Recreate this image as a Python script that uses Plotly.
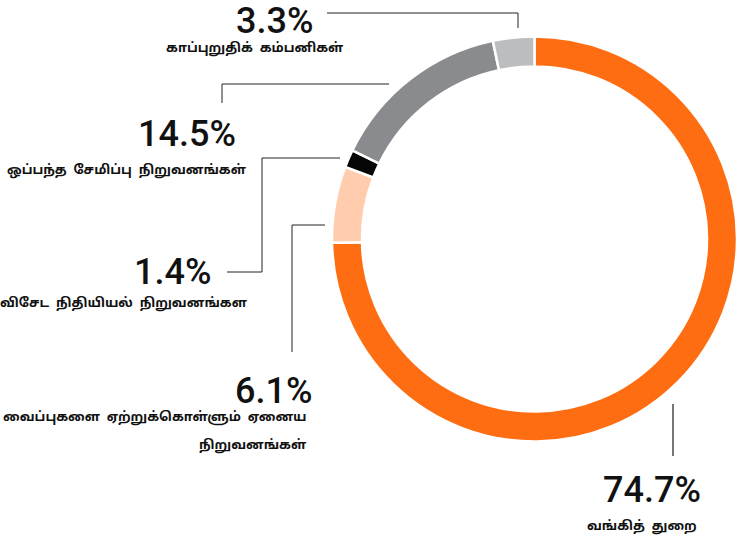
import plotly.graph_objects as go

# Data
categories = [
    "வங்கித் துறை",
    "வைப்புகளை ஏற்றுக்கொள்ளும் ஏனைய நிறுவனங்கள்",
    "விசேட நிதியியல் நிறுவனங்கள",
    "ஒப்பந்த சேமிப்பு நிறுவனங்கள்",
    "காப்புறுதிக் கம்பனிகள்",
]
shares = [74.7, 6.1, 1.4, 14.5, 3.3]
colors = ["#FF6D12", "#FFCDAE", "#050505", "#8A8B8E", "#BCBDBF"]

W, H = 737, 537


def px(x):
    return x / W


def py(y):
    return 1 - y / H


fig = go.Figure(go.Pie(
    labels=categories,
    values=shares,
    hole=0.852,
    sort=False,
    direction='clockwise',
    rotation=0,
    marker=dict(colors=colors, line=dict(color='white', width=2.5)),
    textinfo='none',
    hoverinfo='label+percent',
    domain=dict(x=[px(332), 1.0], y=[py(442), py(36)]),
    showlegend=False,
))

# leader lines (pixel coords)
lines = [
    [(327, 13), (518, 13), (518, 28)],
    [(222, 103), (222, 84), (389, 84)],
    [(227, 272), (262, 272), (262, 158), (340, 158)],
    [(325, 225), (292, 225), (292, 352)],
]
for pts in lines:
    for (x0, y0), (x1, y1) in zip(pts[:-1], pts[1:]):
        fig.add_shape(type='line', xref='paper', yref='paper',
                      x0=px(x0), y0=py(y0), x1=px(x1), y1=py(y1),
                      line=dict(color='#222222', width=1))
fig.add_shape(type='line', xref='paper', yref='paper',
              x0=px(673), y0=py(404), x1=px(673), y1=py(456),
              line=dict(color='#777777', width=2))

PCT_FONT = dict(family='Roboto', size=36, color='#111111', weight=500)
LBL_FONT = dict(family='Noto Sans Tamil, Noto Sans, sans-serif', size=13,
                color='#111111', weight='bold')

# (text, right edge x, center y, font)
texts = [
    ("3.3%", 315, 21, PCT_FONT),
    ("காப்புறுதிக்  கம்பனிகள்", 346, 49, LBL_FONT),
    ("14.5%", 238, 134, PCT_FONT),
    ("ஒப்பந்த  சேமிப்பு  நிறுவனங்கள்", 249, 170, LBL_FONT),
    ("1.4%", 213, 272, PCT_FONT),
    ("விசேட  நிதியியல்  நிறுவனங்கள", 250, 303, LBL_FONT),
    ("6.1%", 314, 391, PCT_FONT),
    ("வைப்புகளை  ஏற்றுக்கொள்ளும்  ஏனைய", 309, 417, LBL_FONT),
    ("நிறுவனங்கள்", 309, 445, LBL_FONT),
    ("74.7%", 703, 490, PCT_FONT),
    ("வங்கித்  துறை", 699, 526, LBL_FONT),
]
for txt, x, y, font in texts:
    fig.add_annotation(text=txt, x=px(x), y=py(y), xref='paper', yref='paper',
                       xanchor='right', yanchor='middle', showarrow=False,
                       font=font)

fig.update_layout(
    width=W,
    height=H,
    margin=dict(l=0, r=0, t=0, b=0),
    paper_bgcolor='white',
    plot_bgcolor='white',
)

# page body has a default 8px margin; drop it so the figure fills the window
fig.write_html("out.html", config={'displayModeBar': False},
               post_script="document.body.style.margin='0';")
